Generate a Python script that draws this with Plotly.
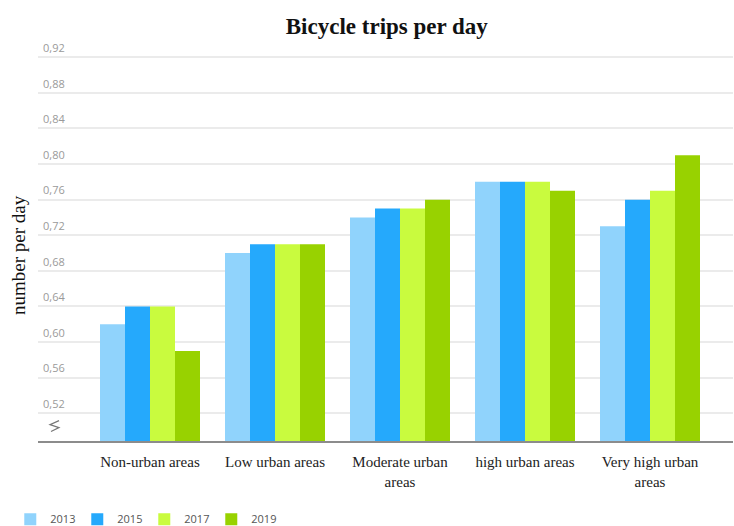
import plotly.graph_objects as go

# Bicycle trips per day by degree of urbanisation
categories = ["Non-urban areas", "Low urban areas", "Moderate urban<br>areas",
              "high urban areas", "Very high urban<br>areas"]
years = ["2013", "2015", "2017", "2019"]
trips_2013 = [0.62, 0.70, 0.74, 0.78, 0.73]
trips_2015 = [0.64, 0.71, 0.75, 0.78, 0.76]
trips_2017 = [0.64, 0.71, 0.75, 0.78, 0.77]
trips_2019 = [0.59, 0.71, 0.76, 0.77, 0.81]
y_ticks = [0.52, 0.56, 0.60, 0.64, 0.68, 0.72, 0.76, 0.80, 0.84, 0.88, 0.92]

series = [trips_2013, trips_2015, trips_2017, trips_2019]
colors = ["#90d3fc", "#25a9fc", "#c9fb3e", "#98d200"]

serif = "Liberation Serif, Times New Roman, serif"
sans = "Open Sans, Lato, sans-serif"

fig = go.Figure()
for year, vals, col in zip(years, series, colors):
    fig.add_trace(go.Bar(
        x=categories, y=vals, name=year,
        marker=dict(color=col, line=dict(width=0)),
        hoverinfo="skip",
    ))

fig.update_layout(
    width=734, height=526,
    margin=dict(l=38, r=1, t=38, b=85),
    paper_bgcolor="white", plot_bgcolor="white",
    separators=", ",
    barmode="group", bargap=0.2, bargroupgap=0,
    title=dict(text="<b>Bicycle trips per day</b>", x=0.527, xanchor="center",
               y=0.95, yanchor="middle",
               font=dict(family=serif, size=23, color="#111")),
    xaxis=dict(
        type="category", range=[-0.896, 4.664],
        showline=True, linecolor="#8c8c8c", linewidth=2,
        showgrid=False, ticks="", ticklen=0, ticklabelstandoff=6,
        tickfont=dict(family=serif, size=15, color="#222"),
    ),
    yaxis=dict(
        range=[0.4888, 0.9416], tickvals=y_ticks, tickformat=".2f",
        showline=False, zeroline=False,
        showgrid=True, gridcolor="#ebebeb", gridwidth=1.5,
        ticklabelposition="inside", ticklabelshift=-9, ticklabelstandoff=2,
        tickfont=dict(family=sans, size=11, color="#9a9a9a"),
    ),
    legend=dict(orientation="h", xref="container", yref="container",
                x=0.014, y=0.013, xanchor="left", yanchor="middle",
                entrywidth=22, entrywidthmode="pixels", itemwidth=30,
                font=dict(family=sans, size=11, color="#555"),
                itemclick=False),
)

# value-axis title
fig.add_annotation(text="number per day", xref="paper", yref="paper",
                   x=0, y=0.4615, xanchor="center", yanchor="middle",
                   xshift=-20, textangle=-90, showarrow=False,
                   font=dict(family=serif, size=19, color="#111"))

# broken-axis marker near the bottom of the value axis
fig.add_shape(type="path", xref="paper", yref="y",
              xsizemode="pixel", ysizemode="pixel",
              xanchor=0.0, yanchor=0.505,
              path="M 21 6 L 12 2 L 21 -1 L 13 -5",
              line=dict(color="#777", width=1.2))

fig.write_html("out.html")
